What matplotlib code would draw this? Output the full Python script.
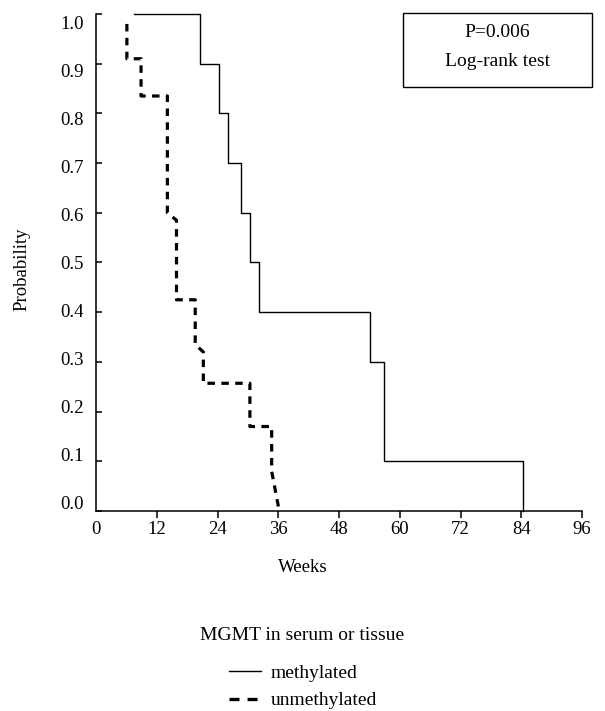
import matplotlib
matplotlib.use("Agg")
import matplotlib.pyplot as plt
import matplotlib.transforms as mtransforms
from matplotlib.lines import Line2D
from matplotlib.patches import Rectangle

plt.rcParams['font.family'] = ['Liberation Serif', 'DejaVu Serif']
plt.rcParams['lines.scale_dashes'] = False

# Kaplan-Meier curves (weeks, survival probability)
meth_weeks = [7.6, 20.5, 24.3, 26.0, 28.7, 30.4, 32.2, 54.1, 56.8, 84.3]
meth_prob = [1.0, 0.9, 0.8, 0.7, 0.6, 0.5, 0.4, 0.3, 0.1, 0.0]

# unmethylated curve is drawn as a polyline (steps with slight slants)
unmeth_weeks = [6.1, 6.1, 8.9, 8.9, 14.1, 14.1, 15.9, 15.9, 19.6, 19.6, 21.2, 21.2,
                30.4, 30.4, 34.7, 34.7, 36.2]
unmeth_prob = [0.98, 0.91, 0.91, 0.835, 0.835, 0.60, 0.585, 0.425, 0.425, 0.335, 0.32, 0.257,
               0.257, 0.17, 0.17, 0.08, 0.0]

week_ticks = [0, 12, 24, 36, 48, 60, 72, 84, 96]
prob_ticks = [0.0, 0.1, 0.2, 0.3, 0.4, 0.5, 0.6, 0.7, 0.8, 0.9, 1.0]

fig = plt.figure(figsize=(6.05, 7.11), dpi=100)
ax = fig.add_axes([96 / 605, 200 / 711, 486 / 605, 497 / 711])

ax.step(meth_weeks, meth_prob, where='post', color='black', lw=1.0, clip_on=False)
ax.plot(unmeth_weeks, unmeth_prob, color='black', lw=2.3, dashes=(5.4, 4.6),
        solid_capstyle='butt', dash_capstyle='butt', clip_on=False)

ax.set_xlim(0, 96)
ax.set_ylim(0, 1.0)
ax.set_xticks(week_ticks)
ax.set_yticks(prob_ticks)
ax.set_xticklabels([str(w) for w in week_ticks])
ax.set_yticklabels([f"{p:.1f}" for p in prob_ticks])

for s in ['top', 'right']:
    ax.spines[s].set_visible(False)
for s in ['left', 'bottom']:
    ax.spines[s].set_linewidth(1.1)

ax.tick_params(axis='x', direction='out', length=5, width=1.1, pad=2, labelsize=13.5)
ax.tick_params(axis='y', direction='in', length=4.5, width=1.1, pad=8.9, labelsize=13.5)
ax.xaxis.get_major_ticks()[0].tick1line.set_visible(False)

# tick labels in the original are spaced slightly tighter than the ticks
for val, lbl in zip(prob_ticks, ax.get_yticklabels()):
    shift = -(val - 0.5) * 17 / 100
    lbl.set_transform(lbl.get_transform() +
                      mtransforms.ScaledTranslation(0, shift, fig.dpi_scale_trans))

ax.set_xlabel('Weeks', fontsize=13.5)
ax.xaxis.set_label_coords(0.425, -0.0966)
ax.set_ylabel('Probability', fontsize=13.5)
ax.yaxis.set_label_coords(-0.134, 0.487)

# P-value box
ax.add_patch(Rectangle((0.632, 0.8537), 0.3886, 0.149, transform=ax.transAxes,
                       fill=False, lw=1.0, edgecolor='black', clip_on=False))
ax.text(0.826, 0.962, 'P=0.006', transform=ax.transAxes, ha='center', va='center', fontsize=14)
ax.text(0.826, 0.904, 'Log-rank test', transform=ax.transAxes, ha='center', va='center', fontsize=14)

# legend
fig.text(302 / 605, 1 - 636 / 711, 'MGMT in serum or tissue', ha='center', va='center', fontsize=14)
handles = [
    Line2D([], [], color='black', lw=1.0),
    Line2D([], [], color='black', lw=2.4, dashes=(7.2, 5.8), dash_capstyle='butt'),
]
fig.legend(handles, ['methylated', 'unmethylated'], loc='center',
           bbox_to_anchor=(303 / 605, 1 - 687 / 711), frameon=False, fontsize=14,
           handlelength=1.65, handletextpad=0.51, labelspacing=0.5,
           borderpad=0, borderaxespad=0)

fig.savefig('out.png', dpi=100)
